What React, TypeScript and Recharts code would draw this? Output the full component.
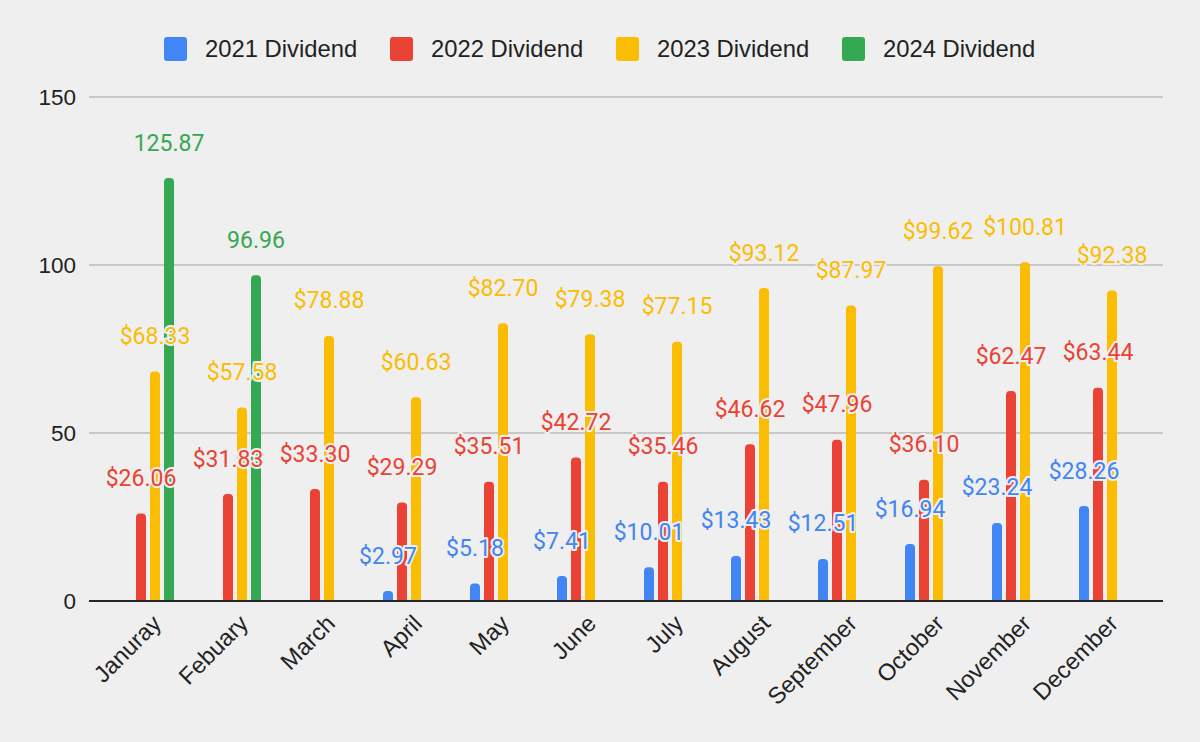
import React from 'react';
import { BarChart, Bar, XAxis, YAxis, CartesianGrid, Legend, LabelList } from 'recharts';

const months = ['Januray', 'Febuary', 'March', 'April', 'May', 'June', 'July', 'August', 'September', 'October', 'November', 'December'];
const div2021: (number | null)[] = [null, null, null, 2.97, 5.18, 7.41, 10.01, 13.43, 12.51, 16.94, 23.24, 28.26];
const div2022: (number | null)[] = [26.06, 31.83, 33.3, 29.29, 35.51, 42.72, 35.46, 46.62, 47.96, 36.1, 62.47, 63.44];
const div2023: (number | null)[] = [68.33, 57.58, 78.88, 60.63, 82.7, 79.38, 77.15, 93.12, 87.97, 99.62, 100.81, 92.38];
const div2024: (number | null)[] = [125.87, 96.96, null, null, null, null, null, null, null, null, null, null];
const yTicks = [0, 50, 100, 150];

const seriesNames = ['2021 Dividend', '2022 Dividend', '2023 Dividend', '2024 Dividend'];
const seriesKeys = ['d2021', 'd2022', 'd2023', 'd2024'];
const seriesColors = ['#4285F4', '#EA4335', '#FBBC04', '#34A853'];
const seriesPrefix = ['$', '$', '$', ''];

const data = months.map((m, i) => ({
  month: m,
  d2021: div2021[i],
  d2022: div2022[i],
  d2023: div2023[i],
  d2024: div2024[i],
}));

const BG = '#efefef';
const AXIS_FONT = '"Liberation Sans", Arial, sans-serif';

const XTick = (props: any) => {
  const { x, y, payload } = props;
  return (
    <g transform={`translate(${x + 15},${y + 24})`}>
      <text textAnchor="end" transform="rotate(-45)" fontSize={23.5} fill="#222" fontFamily={AXIS_FONT}>
        {payload.value}
      </text>
    </g>
  );
};

const makeLabel = (color: string, prefix: string) => (props: any) => {
  const { x, y, width, value } = props;
  if (value === null || value === undefined) return null;
  return (
    <text
      x={Number(x) + Number(width) / 2}
      y={Number(y) - 27.5}
      textAnchor="middle"
      fill={color}
      stroke={BG}
      strokeWidth={4}
      strokeLinejoin="round"
      paintOrder="stroke"
      fontSize={23}
      fontFamily="Roboto, sans-serif"
    >
      {prefix + Number(value).toFixed(2)}
    </text>
  );
};

const LegendContent = (props: any) => {
  const payload = (props.payload || []).filter((p: any) => p.type !== 'none');
  return (
    <div style={{ position: 'absolute', left: 164, top: 37, display: 'flex' }}>
      {payload.map((p: any) => (
        <div key={p.value} style={{ width: 226, display: 'flex', alignItems: 'center', height: 24 }}>
          <div style={{ width: 23, height: 24, borderRadius: 3, background: p.color, marginRight: 18 }} />
          <span style={{ fontFamily: AXIS_FONT, fontSize: 23.8, color: '#222', whiteSpace: 'nowrap', lineHeight: '24px' }}>{p.value}</span>
        </div>
      ))}
    </div>
  );
};

export default function App() {
  return (
    <div style={{ position: 'absolute', left: 0, top: 0, width: 1200, height: 742, background: BG, overflow: 'hidden' }}>
      <BarChart
        width={1200}
        height={742}
        data={data}
        margin={{ top: 97, right: 37, bottom: 41, left: 9 }}
        barSize={10}
        barGap={4}
      >
        <CartesianGrid vertical={false} stroke="#bababa" strokeWidth={1.6} />
        <XAxis
          dataKey="month"
          height={100}
          padding={{ left: 15, right: 15 }}
          tickLine={false}
          tickSize={0}
          tickMargin={0}
          axisLine={{ stroke: '#262626', strokeWidth: 2 }}
          tick={<XTick />}
          interval={0}
        />
        <XAxis xAxisId="lbl" dataKey="month" hide padding={{ left: 15, right: 15 }} />
        <YAxis
          width={80}
          domain={[0, 150]}
          ticks={yTicks}
          axisLine={false}
          tickLine={false}
          tickMargin={7}
          tick={{ fontSize: 22.5, fill: '#222', fontFamily: AXIS_FONT }}
        />
        <Legend verticalAlign="middle" align="center" layout="horizontal" wrapperStyle={{ top: 0, left: 0, width: 1200, height: 90 }} content={<LegendContent />} />
        {seriesKeys.map((k, i) => (
          <Bar key={k} dataKey={k} name={seriesNames[i]} fill={seriesColors[i]} radius={[4, 4, 0, 0]} isAnimationActive={false} />
        ))}
        {seriesKeys.map((k, i) => (
          <Bar key={'lbl' + k} xAxisId="lbl" dataKey={k} fill="transparent" legendType="none" isAnimationActive={false}>
            <LabelList dataKey={k} content={makeLabel(seriesColors[i], seriesPrefix[i])} />
          </Bar>
        ))}
      </BarChart>
    </div>
  );
}
